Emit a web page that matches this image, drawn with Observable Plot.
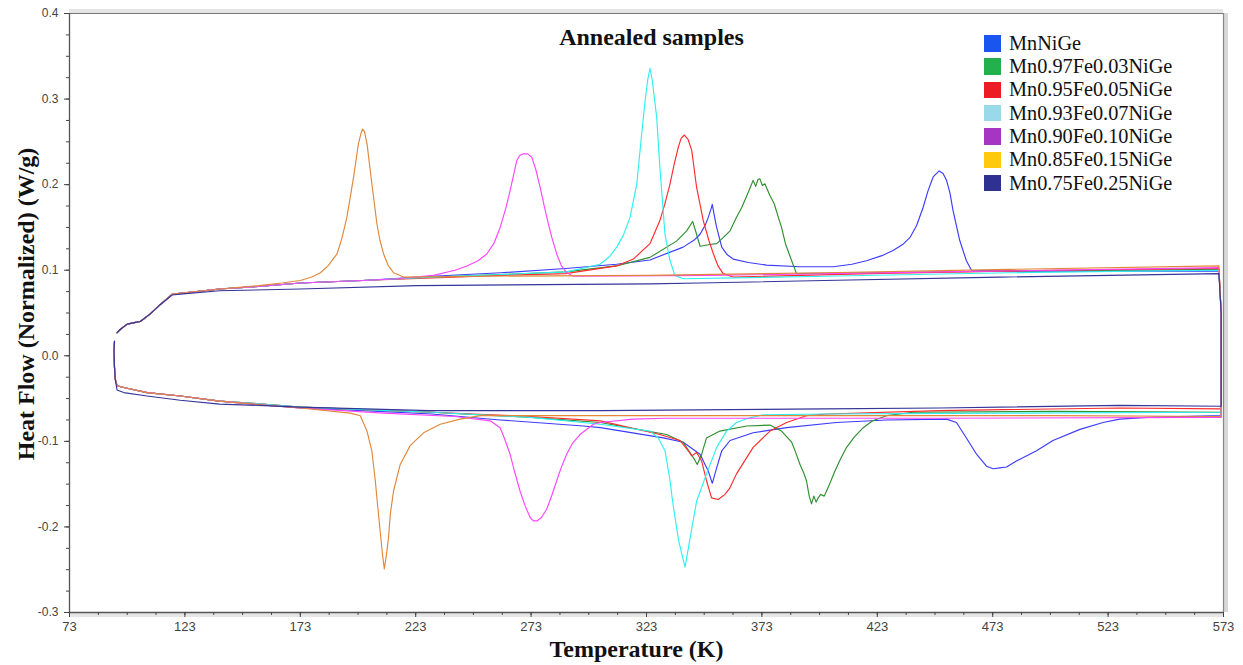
<!DOCTYPE html>
<html><head><meta charset="utf-8">
<script src="https://cdn.jsdelivr.net/npm/d3@7"></script>
<script src="https://cdn.jsdelivr.net/npm/@observablehq/plot@0.6"></script>
<style>
body{margin:0;background:#fff;}
#wrap{position:relative;width:1243px;height:665px;overflow:hidden;}
#legend{position:absolute;left:984px;top:31.7px;font-family:"Liberation Serif","Times New Roman",serif;font-size:20.3px;color:#111;}
.row{display:flex;align-items:center;height:23.3px;white-space:nowrap;}
.sw{width:16.5px;height:16.5px;margin-right:8.5px;flex:none;}
</style></head><body><div id="wrap"></div>
<script>
// ---- data (temperature K, heat flow W/g) ----
const names = ["MnNiGe","Mn0.97Fe0.03NiGe","Mn0.95Fe0.05NiGe","Mn0.93Fe0.07NiGe","Mn0.90Fe0.10NiGe","Mn0.85Fe0.15NiGe","Mn0.75Fe0.25NiGe"];
const lineColors = ["#3c3cff","#2f8f2f","#ff2b2b","#2ef0f0","#ff44ff","#e0883a","#35359a"];
const legendColors = ["#1a55f0","#22b14c","#ed1c24","#99d9ea","#a535c2","#ffc90e","#2e3192"];
const xTicks = [73,123,173,223,273,323,373,423,473,523,573];
const yTicks = [-0.3,-0.2,-0.1,0.0,0.1,0.2,0.3,0.4];

const startUp = [[93.6,0.027],[95.1,0.031],[98,0.037],[101.6,0.039],[103.7,0.040],[108,0.049],[112.4,0.060],[117.5,0.072],[121,0.073],[138,0.078]];
const endLow = [[138,-0.053],[121,-0.047],[106.6,-0.043],[96.5,-0.037],[93.6,-0.035],[92.8,-0.027],[92.5,-0.014],[92.3,0.006],[92.5,0.017]];

const s100 = [[155,0.081],[173,0.085],[200,0.088],[230,0.093],[260,0.097],[288,0.102],[310,0.107],[324.5,0.112],[338.9,0.127],[344,0.136],[346.2,0.142],[348.5,0.153],[349.8,0.162],[351,0.172],[351.5,0.177],[352.3,0.165],[353.4,0.150],[355.6,0.127],[358,0.118],[360.6,0.113],[367.1,0.109],[375,0.106],[389.5,0.104],[403.9,0.104],[412,0.107],[418.3,0.111],[425,0.117],[429.8,0.123],[434,0.130],[437.1,0.138],[440,0.152],[442.8,0.173],[445,0.193],[447.2,0.209],[449.8,0.216],[451.5,0.213],[453,0.205],[454.5,0.190],[455.8,0.170],[458.7,0.135],[461.6,0.111],[463.8,0.100],[480,0.099],[520,0.099],[571,0.099],
 [572,0.05],[572,-0.070],[540,-0.072],[528,-0.074],[520.8,-0.078],[510.8,-0.086],[499.1,-0.099],[492,-0.111],[483.3,-0.123],[479,-0.130],[476,-0.131],[473.2,-0.132],[470.3,-0.129],[466,-0.115],[461.6,-0.096],[457.3,-0.078],[453,-0.074],[427,-0.075],[405.3,-0.078],[383.7,-0.084],[369.2,-0.090],[359.2,-0.099],[355.6,-0.111],[353.4,-0.131],[351.5,-0.149],[349.8,-0.135],[346.2,-0.115],[338.9,-0.101],[330.3,-0.096],[303,-0.084],[295.6,-0.082],[259.6,-0.075],[230,-0.068],[200,-0.064],[173,-0.061],[155,-0.057]];

const s097 = [[155,0.081],[173,0.085],[200,0.088],[230,0.092],[260,0.095],[288,0.098],[310,0.105],[324.5,0.115],[336,0.134],[340.4,0.146],[343,0.157],[344.7,0.142],[346.2,0.128],[350.5,0.130],[353.4,0.131],[356.2,0.138],[359.2,0.146],[362,0.162],[364.2,0.173],[366,0.184],[367.1,0.191],[368,0.197],[369.2,0.205],[370.3,0.198],[371.3,0.206],[372.1,0.207],[373.2,0.199],[374.3,0.201],[376.5,0.187],[378.3,0.178],[380.1,0.162],[381.5,0.150],[383.2,0.131],[385.9,0.111],[388,0.096],[420,0.097],[480,0.099],[571,0.101],
 [572,0.05],[572,-0.066],[500,-0.065],[438.5,-0.066],[427,-0.070],[421,-0.076],[416.9,-0.084],[413,-0.095],[409.7,-0.107],[407,-0.121],[404.6,-0.135],[402,-0.152],[401,-0.158],[400,-0.164],[398.5,-0.162],[397.4,-0.166],[396.5,-0.171],[395.5,-0.164],[394.5,-0.173],[393.5,-0.164],[392.3,-0.146],[391,-0.136],[389.5,-0.127],[387.5,-0.112],[385.9,-0.101],[381.5,-0.088],[376.5,-0.081],[366.4,-0.082],[354.8,-0.088],[349,-0.096],[346.9,-0.115],[345,-0.127],[343.3,-0.119],[338.9,-0.101],[331.7,-0.092],[303,-0.078],[273,-0.072],[230,-0.066],[200,-0.063],[173,-0.060],[155,-0.056]];

const s095 = [[155,0.081],[173,0.085],[200,0.088],[230,0.091],[260,0.094],[288,0.096],[310,0.105],[317.3,0.113],[324.5,0.131],[328.8,0.158],[331,0.178],[333.2,0.201],[335,0.224],[336.8,0.244],[338,0.254],[339.4,0.258],[341,0.253],[342.6,0.240],[344.7,0.197],[347.6,0.158],[350,0.135],[352,0.119],[354,0.105],[356.2,0.096],[360.6,0.092],[420,0.096],[500,0.100],[571,0.102],
 [572,0.05],[572,-0.062],[528,-0.061],[450,-0.064],[401,-0.068],[392.3,-0.070],[383.7,-0.078],[376.5,-0.088],[369.2,-0.107],[362,-0.138],[359,-0.155],[357,-0.162],[354.1,-0.168],[351.2,-0.166],[349,-0.146],[346.9,-0.123],[344.7,-0.113],[342.6,-0.117],[341.1,-0.111],[337.5,-0.099],[328.8,-0.092],[303,-0.076],[273,-0.071],[230,-0.066],[200,-0.063],[173,-0.060],[155,-0.056]];

const s093 = [[155,0.081],[173,0.085],[200,0.088],[230,0.092],[260,0.095],[288.4,0.098],[302.9,0.107],[307,0.116],[310.1,0.127],[313,0.141],[315.9,0.162],[318.8,0.201],[320.9,0.259],[322.4,0.298],[323.5,0.322],[324.5,0.336],[325.5,0.322],[327.4,0.279],[328.8,0.220],[331,0.142],[333.2,0.111],[335.3,0.094],[338.9,0.090],[400,0.093],[480,0.097],[571,0.100],
 [572,0.05],[572,-0.066],[480,-0.067],[400,-0.068],[373.4,-0.069],[367,-0.073],[362,-0.078],[357.7,-0.088],[353.4,-0.107],[349,-0.138],[344.7,-0.170],[341.7,-0.216],[339.7,-0.247],[336.9,-0.216],[334.3,-0.170],[333.2,-0.146],[331,-0.111],[328.1,-0.096],[324.5,-0.088],[302.9,-0.080],[273,-0.072],[230,-0.066],[200,-0.063],[173,-0.060],[155,-0.056]];

const s090 = [[155,0.081],[173,0.085],[200,0.088],[215,0.090],[230.7,0.094],[240,0.100],[245.2,0.105],[250,0.111],[253.8,0.119],[257,0.132],[259.6,0.150],[262,0.172],[263.9,0.193],[266.8,0.228],[268,0.234],[269.7,0.236],[271.5,0.236],[273.3,0.232],[275,0.218],[276.9,0.197],[278.7,0.175],[280.5,0.154],[282,0.138],[284.1,0.119],[286,0.106],[288.4,0.097],[291.3,0.093],[350,0.094],[450,0.098],[571,0.103],
 [572,0.05],[572,-0.072],[450,-0.073],[350,-0.073],[331.7,-0.073],[317,-0.074],[303,-0.078],[300,-0.080],[294.2,-0.092],[291,-0.102],[288.4,-0.115],[286,-0.131],[284.1,-0.146],[282,-0.163],[279.8,-0.179],[277.5,-0.189],[275.5,-0.193],[274,-0.193],[272.6,-0.189],[270.5,-0.176],[268.2,-0.158],[266,-0.137],[263.9,-0.115],[261.5,-0.097],[259.6,-0.084],[255.3,-0.076],[240,-0.071],[209,-0.067],[173,-0.061],[155,-0.057]];

const s085 = [[155,0.082],[165,0.085],[173,0.088],[178,0.092],[181.7,0.097],[185,0.105],[188.9,0.119],[191,0.137],[193.2,0.162],[196.1,0.209],[198.2,0.248],[199.3,0.260],[200,0.265],[200.8,0.262],[201.9,0.248],[204,0.201],[206.2,0.154],[207.5,0.135],[209.1,0.119],[211,0.106],[213.4,0.097],[217.7,0.092],[250,0.093],[323,0.094],[400,0.097],[480,0.101],[571,0.105],
 [572,0.05],[572,-0.071],[500,-0.070],[400,-0.070],[300,-0.070],[250.9,-0.070],[242.3,-0.074],[233.6,-0.080],[226.4,-0.090],[220.6,-0.105],[216.3,-0.127],[213.4,-0.158],[212,-0.185],[211.2,-0.213],[210.2,-0.235],[209.4,-0.249],[208.6,-0.232],[207.6,-0.205],[206.5,-0.175],[205.5,-0.146],[204,-0.111],[201.9,-0.088],[199,-0.070],[194.6,-0.067],[173,-0.061],[155,-0.057]];

const s075 = [[93.6,0.027],[95.1,0.031],[98,0.037],[101.6,0.039],[103.7,0.040],[108,0.049],[112.4,0.060],[117.5,0.071],[121,0.072],[138,0.076],[173,0.078],[223.5,0.082],[324.5,0.084],[346,0.085],[400,0.088],[476,0.092],[571,0.096],
 [572,0.05],[572,-0.059],[528,-0.058],[450,-0.061],[400,-0.062],[303,-0.064],[229,-0.064],[173,-0.060],[155,-0.058],[138,-0.0565],[121,-0.052],[106.6,-0.047],[96.5,-0.043],[93.6,-0.040],[92.8,-0.027],[92.5,-0.014],[92.3,0.006],[92.5,0.017]];

// ---- build table ----
const loops = [
  startUp.concat(s100, endLow),
  startUp.concat(s097, endLow),
  startUp.concat(s095, endLow),
  startUp.concat(s093, endLow),
  startUp.concat(s090, endLow),
  startUp.concat(s085, endLow),
  s075
];
const rows = [];
loops.forEach((pts, i) => pts.forEach(([T, v], k) => rows.push({name: names[i], T, v, k})));

const minorX = d3.range(73, 573.01, 12.5);
const minorY = d3.range(-0.3, 0.4001, 0.025);
const fmtY = v => v.toFixed(1);
const serif = "'Liberation Serif','Times New Roman',serif";
const sans = "'Liberation Sans',Arial,sans-serif";

const chart = Plot.plot({
  width: 1243, height: 665,
  marginLeft: 69, marginRight: 20, marginTop: 13, marginBottom: 53,
  x: {domain: [73, 573], label: null},
  y: {domain: [-0.3, 0.4], label: null},
  color: {domain: names, range: lineColors},
  style: {background: "#fff"},
  marks: [
    // frame shading
    Plot.ruleY([0.4], {stroke: "#e4e4e4", strokeWidth: 4, dy: -2.5}),
    Plot.ruleX([573], {stroke: "#d8d8d8", strokeWidth: 4, dx: 2.5}),
    Plot.ruleY([-0.3], {stroke: "#e6e6e6", strokeWidth: 4, dy: 2.5}),
    // data
    Plot.line(rows, {x: "T", y: "v", z: "name", stroke: "name", strokeWidth: 1.15, curve: "linear"}),
    // frame lines
    Plot.ruleY([0.4], {stroke: "#777", strokeWidth: 1.2}),
    Plot.ruleX([573], {stroke: "#888", strokeWidth: 1.2}),
    Plot.ruleY([-0.3], {stroke: "#555", strokeWidth: 1.3}),
    Plot.ruleX([73], {stroke: "#555", strokeWidth: 1.3}),
    // axes
    Plot.axisX(minorX, {tickSize: 3, text: null, stroke: "#444", label: null}),
    Plot.axisX(xTicks, {tickSize: 5, tickPadding: 4, stroke: "#444", fill: "#444", fontSize: 13, fontFamily: sans, label: null, tickFormat: d => String(d)}),
    Plot.axisY(minorY, {tickSize: 3, text: null, stroke: "#444", label: null}),
    Plot.axisY(yTicks, {tickSize: 5, tickPadding: 6, stroke: "#444", fill: "#444", fontSize: 12, fontFamily: sans, label: null, tickFormat: fmtY}),
    // titles
    Plot.text(["Temperature (K)"], {frameAnchor: "bottom", textAnchor: "middle", dx: -10, dy: 37, lineAnchor: "middle", fontFamily: serif, fontWeight: "bold", fontSize: 24, fill: "#111"}),
    Plot.text(["Heat Flow (Normalized) (W/g)"], {frameAnchor: "left", textAnchor: "middle", rotate: -90, dx: -43, dy: -9, lineAnchor: "middle", fontFamily: serif, fontWeight: "bold", fontSize: 24, fill: "#111"}),
    Plot.text(["Annealed samples"], {frameAnchor: "top", textAnchor: "middle", dx: 5, dy: 24, lineAnchor: "middle", fontFamily: serif, fontWeight: "bold", fontSize: 24, fill: "#111"})
  ]
});

const wrap = document.getElementById("wrap");
wrap.appendChild(chart);
const leg = document.createElement("div");
leg.id = "legend";
names.forEach((n, i) => {
  const r = document.createElement("div");
  r.className = "row";
  const sw = document.createElement("div");
  sw.className = "sw";
  sw.style.background = legendColors[i];
  const t = document.createElement("span");
  t.textContent = n;
  r.appendChild(sw); r.appendChild(t);
  leg.appendChild(r);
});
wrap.appendChild(leg);
</script></body></html>
